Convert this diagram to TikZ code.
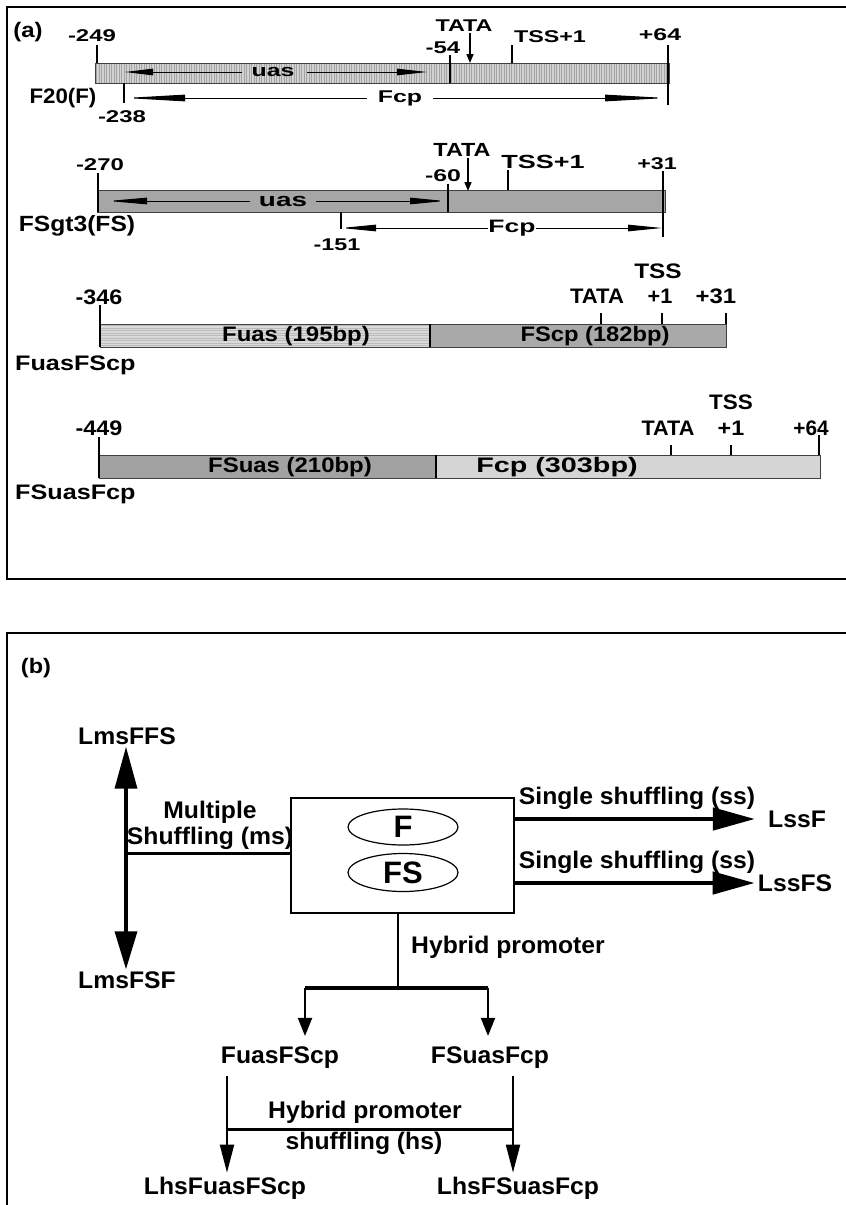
\documentclass[tikz,border=0pt]{standalone}
\usepackage{fontspec}
\setmainfont{Liberation Sans}
\usepackage{graphicx}
\usetikzlibrary{arrows.meta,shapes.geometric}
\newcommand{\sx}[2]{\scalebox{#1}[1]{#2}}
\definecolor{barA}{HTML}{D2D2D2}
\definecolor{hatchA}{HTML}{A4A4A4}
\definecolor{barB}{HTML}{A6A6A6}
\definecolor{barC}{HTML}{DADADA}
\definecolor{hatchC}{HTML}{BBBBBB}
\definecolor{barD}{HTML}{A9A9A9}
\definecolor{barE}{HTML}{A2A2A2}
\definecolor{barF}{HTML}{D5D5D5}
\begin{document}
\begin{tikzpicture}[x=1pt,y=-1pt,
 txtA/.style={inner sep=0pt, font=\fontsize{17}{18}\selectfont\bfseries},
 txtA2/.style={inner sep=0pt, font=\fontsize{19}{20}\selectfont\bfseries},
 txtN/.style={inner sep=0pt, font=\fontsize{21}{22}\selectfont\bfseries},
 txtC/.style={inner sep=0pt, font=\fontsize{21}{22}\selectfont\bfseries},
 txtB/.style={inner sep=0pt, font=\fontsize{24}{26}\selectfont\bfseries},
 frame/.style={line width=2.5pt},
 tick/.style={line width=1.8pt},
 barline/.style={draw=black!75, line width=0.8pt},
 harrow/.style={line width=1pt, -{Triangle[length=#1,width=6.5pt]}},
 tata/.style={line width=1.6pt, -{Triangle[length=9pt,width=7pt]}},
 bigarrow/.style={line width=4.5pt, -{Triangle[length=42pt,width=22pt]}},
 msarrow/.style={line width=3.5pt, -{Triangle[length=#1,width=22pt]}},
 midarrow/.style={line width=2pt, -{Triangle[length=#1,width=14pt]}},
]
\useasboundingbox (0,0) rectangle (846,1205);
% frames
\draw[frame] (850,7) -- (7,7) -- (7,579) -- (850,579);
\draw[frame] (850,633) -- (7,633) -- (7,1210);
\node[inner sep=0pt, font=\fontsize{21}{22}\selectfont\bfseries] (alab) at (28,32) {\sx{1.14}{(a)}};
\node[inner sep=0pt, font=\fontsize{21}{22}\selectfont\bfseries] (blab) at (36,668) {\sx{1.12}{(b)}};

% ---------- Row 1: F20(F)
\fill[barA] (95,63) rectangle (669,83);
\foreach \x in {96.5,99,...,668} {\draw[hatchA, line width=0.7pt] (\x,63) -- (\x,83);}
\draw[barline] (95,63) rectangle (669,83);
\node[txtA] (r1a) at (92,36) {\sx{1.41}{-249}};
\draw[tick] (97,45) -- (97,63);
\node[txtA] (r1b) at (443,48) {\sx{1.41}{-54}};
\draw[tick] (450,55) -- (450,83);
\node[txtA] (r1t) at (464,26) {\sx{1.37}{TATA}};
\draw[tata] (470,33) -- (470,63);
\node[txtA] (r1s) at (550,37) {\sx{1.37}{TSS+1}};
\draw[tick] (512,45) -- (512,63);
\node[txtA] (r1e) at (660,35) {\sx{1.46}{+64}};
\draw[tick] (668,45) -- (668,105);
\node[txtA] (r1u) at (273,72) {\sx{1.46}{uas}};
\draw[harrow=28pt] (242,72) -- (125,72);
\draw[harrow=30pt] (307,72) -- (427,72);
\draw[tick] (124,83) -- (124,103);
\node[txtA] (r1f) at (400,98) {\sx{1.46}{Fcp}};
\draw[harrow=60pt] (367,98) -- (125,98);
\draw[harrow=62pt] (433,98) -- (667,98);
\node[txtN] (r1n) at (63,98) {\sx{1.06}{F20(F)}};
\node[txtA] (r1c) at (122,117) {\sx{1.41}{-238}};

% ---------- Row 2: FSgt3(FS)
\fill[barB] (97,190) rectangle (665,212);
\draw[barline] (97,190) rectangle (665,212);
\node[txtA] (r2a) at (100,165) {\sx{1.41}{-270}};
\draw[tick] (98,173) -- (98,212);
\node[txtA] (r2b) at (443,176) {\sx{1.46}{-60}};
\draw[tick] (448,184) -- (448,212);
\node[txtA2] (r2t) at (462,150) {\sx{1.23}{TATA}};
\draw[tata] (468,158) -- (468,191);
\node[txtA2] (r2s) at (543,162) {\sx{1.42}{TSS+1}};
\draw[tick] (508,170) -- (508,190);
\node[txtA] (r2e) at (657,164) {\sx{1.37}{+31}};
\draw[tick] (663,171) -- (663,237);
\node[inner sep=0pt, font=\fontsize{19}{20}\selectfont\bfseries] (r2u) at (283,201) {\sx{1.47}{uas}};
\draw[harrow=39pt] (250,201) -- (108,201);
\draw[harrow=35pt] (316,201) -- (445,201);
\draw[tick] (341,212) -- (341,229);
\node[inner sep=0pt, font=\fontsize{18}{19}\selectfont\bfseries] (r2f) at (512,228) {\sx{1.47}{Fcp}};
\draw[harrow=35pt] (488,228) -- (341,228);
\draw[harrow=34pt] (536,228) -- (662,228);
\node[txtA] (r2c) at (337,245) {\sx{1.37}{-151}};
\node[inner sep=0pt, font=\fontsize{22}{23}\selectfont\bfseries] (r2n) at (77,226) {\sx{1.12}{FSgt3(FS)}};

% ---------- Row 3: FuasFScp
\fill[barC] (100,324) rectangle (430,347);
\foreach \y in {325.5,328,...,346} {\draw[hatchC, line width=0.7pt] (100,\y) -- (430,\y);}
\fill[barD] (430,324) rectangle (726,347);
\draw[barline] (100,324) rectangle (726,347);
\draw[line width=2pt] (430,324) -- (430,347);
\draw[tick] (100,305) -- (100,347);
\node[txtC] (r3a) at (99,297) {\sx{1.11}{-346}};
\node[txtC] (r3t) at (597,296) {\sx{1.05}{TATA}};
\draw[tick] (601,313) -- (601,324);
\node[txtC] (r3s) at (658,271) {\sx{1.16}{TSS}};
\node[txtC] (r3p) at (660,296) {\sx{1.03}{+1}};
\draw[tick] (662,313) -- (662,324);
\node[txtC] (r3e) at (716,296) {\sx{1.14}{+31}};
\draw[tick] (726,313) -- (726,324);
\node[txtC] (r3l) at (296,336) {\sx{1.14}{Fuas (195bp)}};
\node[txtC] (r3r) at (595,336) {\sx{1.13}{FScp (182bp)}};
\node[txtC, anchor=west] (r3n) at (15,365) {\sx{1.2}{FuasFScp}};

% ---------- Row 4: FSuasFcp
\fill[barE] (99,455) rectangle (436,478);
\fill[barF] (436,455) rectangle (820,478);
\draw[barline] (99,455) rectangle (820,478);
\draw[line width=2pt] (436,455) -- (436,478);
\draw[tick] (99,437) -- (99,478);
\node[txtC] (r4a) at (99,428) {\sx{1.11}{-449}};
\node[txtC] (r4t) at (668,428) {\sx{1.03}{TATA}};
\draw[tick] (671,445) -- (671,455);
\node[txtC] (r4s) at (731,402) {\sx{1.07}{TSS}};
\node[txtC] (r4p) at (731,428) {\sx{1.11}{+1}};
\draw[tick] (731,445) -- (731,455);
\node[txtC] (r4e) at (811,428) {\sx{0.99}{+64}};
\draw[tick] (819,435) -- (819,455);
\node[txtC] (r4l) at (290,467) {\sx{1.14}{FSuas (210bp)}};
\node[txtC] (r4r) at (557,467) {\sx{1.37}{Fcp (303bp)}};
\node[txtC, anchor=west] (r4n) at (15,494) {\sx{1.2}{FSuasFcp}};

% ---------- Panel (b)
\node[draw, line width=2.5pt, minimum width=223pt, minimum height=115pt, inner sep=0pt] (box) at (402.5,855.5) {};
\node[ellipse, draw, line width=1.2pt, minimum width=110pt, minimum height=36pt, inner sep=0pt, font=\fontsize{31}{31}\selectfont\bfseries] (ef) at (403,827) {F};
\node[ellipse, draw, line width=1.2pt, minimum width=110pt, minimum height=38pt, inner sep=0pt, font=\fontsize{31}{31}\selectfont\bfseries] (efs) at (403,872.5) {FS};

\node[txtB, inner sep=2pt] (lmsffs) at (127,736) {\sx{1.03}{LmsFFS}};
\node[txtB, inner sep=2pt] (lmsfsf) at (127,980) {\sx{1.03}{LmsFSF}};
\coordinate (msj) at (126,853);
\draw[msarrow=42pt] (msj) -- (msj |- lmsffs.south);
\draw[msarrow=38pt] (msj) -- (msj |- lmsfsf.north);
\draw[line width=3pt] (msj) -- (msj -| box.west);
\node[txtB] (mult) at (210,812) {\sx{1.03}{Multiple}};
\node[txtB] (shufms) at (210,838) {\sx{1.03}{Shuffling (ms)}};

\node[txtB] (ss1) at (637,798) {\sx{1.03}{Single shuffling (ss)}};
\node[txtB] (ss2) at (637,862) {\sx{1.03}{Single shuffling (ss)}};
\node[txtB] (lssf) at (797,819) {\sx{1.03}{LssF}};
\node[txtB] (lssfs) at (795,883) {\sx{1.03}{LssFS}};
\draw[bigarrow, shorten >=13pt] (box.east |- lssf) -- (lssf.west);
\draw[bigarrow, shorten >=3pt] (box.east |- lssfs) -- (lssfs.west);

\coordinate (hj) at (398,988);
\draw[line width=2.5pt] (hj |- box.south) -- (hj);
\node[txtB] (hyb) at (508,947) {\sx{1.03}{Hybrid promoter}};
\coordinate (bl) at (305,988);
\coordinate (br) at (488,988);
\draw[line width=4pt] (bl) -- (br);
\node[txtB] (fuasfscp) at (280,1058) {\sx{1.03}{FuasFScp}};
\node[txtB] (fsuasfcp) at (490,1058) {\sx{1.03}{FSuasFcp}};
\draw[midarrow=18pt, shorten >=11pt] (bl) -- (bl |- fuasfscp.north);
\draw[midarrow=18pt, shorten >=11pt] (br) -- (br |- fsuasfcp.north);

\node[txtB] (lhsf) at (225,1188) {\sx{1.03}{LhsFuasFScp}};
\node[txtB] (lhsfs) at (518,1188) {\sx{1.03}{LhsFSuasFcp}};
\coordinate (hsl) at (227,1129);
\coordinate (hsr) at (513,1129);
\draw[midarrow=28pt, shorten <=7pt, shorten >=4pt] (hsl |- fuasfscp.south) -- (hsl |- lhsf.north);
\draw[midarrow=28pt, shorten <=7pt, shorten >=4pt] (hsr |- fsuasfcp.south) -- (hsr |- lhsfs.north);
\draw[line width=3pt] (hsl) -- (hsr);
\node[txtB] (hyb2) at (365,1112) {\sx{1.03}{Hybrid promoter}};
\node[txtB] (shufhs) at (364,1143) {\sx{1.03}{shuffling (hs)}};
\end{tikzpicture}
\end{document}
